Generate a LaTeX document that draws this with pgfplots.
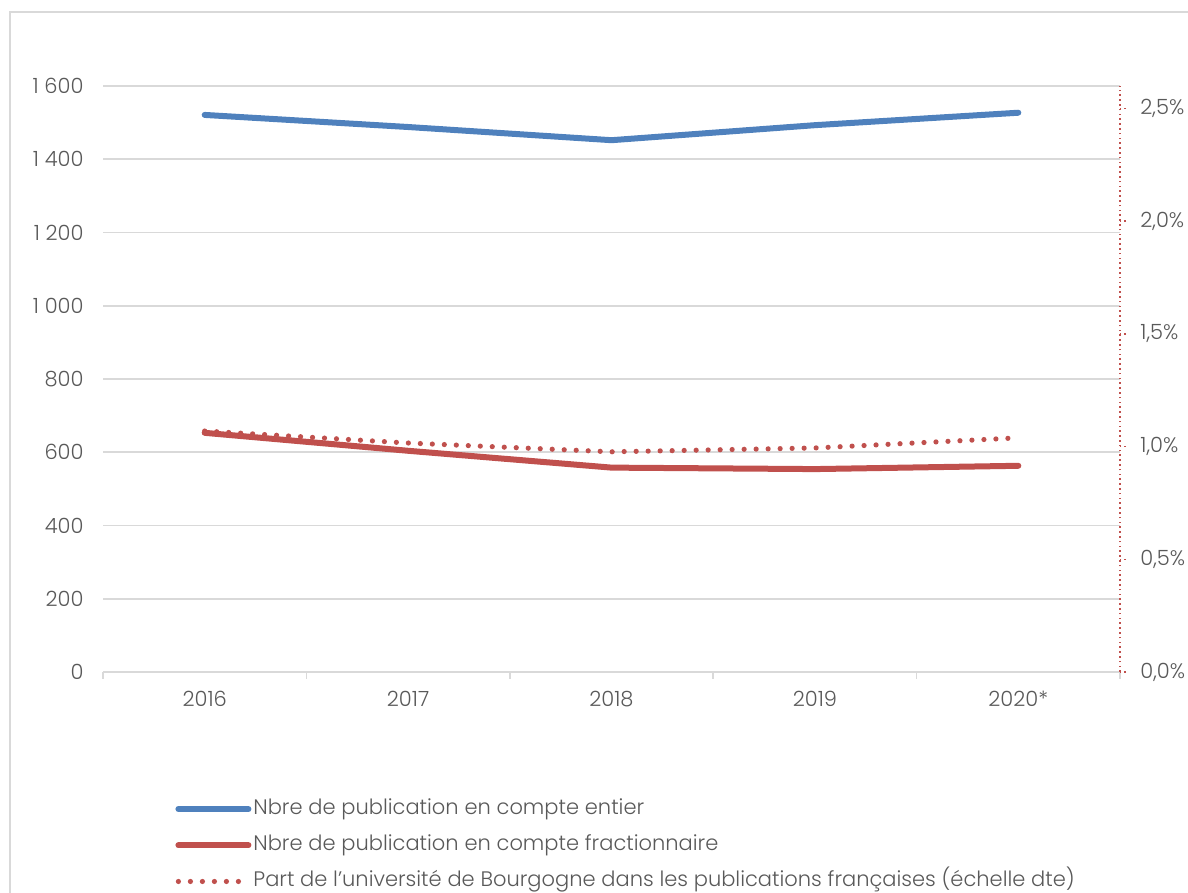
\documentclass[border=0pt]{standalone}
\usepackage{pgfplots}
\pgfplotsset{compat=1.18}
\usepackage{fontspec}
\IfFontExistsTF{Poppins Light}{\setmainfont{Poppins Light}}{\setmainfont{Poppins}}
\definecolor{cblue}{HTML}{4F81BD}
\definecolor{cred}{HTML}{C0504D}
\definecolor{cgrid}{HTML}{D9D9D9}
\definecolor{ctext}{HTML}{595959}
\pgfplotsset{
  myfont/.style={font=\fontsize{10.5}{12}\selectfont},
  dotstyle/.style={cred, line width=2.6pt, line cap=round, dash pattern=on 0pt off 6pt},
}
\begin{document}
\begin{tikzpicture}[x=1pt,y=1pt]
\useasboundingbox (0,0) rectangle (594,446.5);
\draw[cgrid, line width=1pt] (5,-5) -- (5,440.5) -- (600,440.5);
\begin{axis}[
  at={(51.5pt,110.5pt)}, anchor=south west, scale only axis,
  width=508.5pt, height=293pt,
  xmin=-0.5, xmax=4.5, ymin=0, ymax=1600,
  xtick={0,1,2,3,4}, xticklabels={2016,2017,2018,2019,2020*},
  ytick={0,200,...,1600},
  /pgf/number format/1000 sep={\ },
  /pgf/number format/assume math mode=true,
  tick align=outside,
  major tick length=3.5pt,
  x tick style={draw=none},
  y tick style={draw=none},
  extra x ticks={-0.5,0.5,1.5,2.5,3.5,4.5},
  extra x tick labels={},
  extra x tick style={x tick style={draw=cgrid, line width=0.8pt}},
  axis x line*=bottom, axis y line*=left,
  y axis line style={draw=none},
  x axis line style={cgrid, line width=0.8pt},
  ymajorgrids, grid style={cgrid, line width=0.8pt},
  tick label style={myfont, text=ctext},
  yticklabel style={inner sep=0pt, anchor=east, xshift=-6pt},
  xticklabel style={inner sep=0pt, anchor=north, yshift=-6pt},
  clip=false,
]
\addplot[cblue, line width=3pt, line cap=round, line join=round] coordinates {(0,1521) (1,1488) (2,1452) (3,1493) (4,1527)};
\addplot[cred, line width=3pt, line cap=round, line join=round] coordinates {(0,653) (1,604) (2,558) (3,554) (4,563)};
\end{axis}
\begin{axis}[
  at={(51.5pt,110.5pt)}, anchor=south west, scale only axis,
  width=508.5pt, height=293pt,
  xmin=-0.5, xmax=4.5, ymin=0, ymax=2.6,
  axis x line=none, axis y line*=right,
  ytick={0,0.5,1,1.5,2,2.5},
  y axis line style={cred, line width=0.8pt, dash pattern=on 0.8pt off 1.6pt},
  y tick style={cred, line width=0.8pt, dash pattern=on 0.8pt off 1.6pt},
  tick align=outside, major tick length=3pt,
  /pgf/number format/assume math mode=true,
  yticklabel={\pgfmathprintnumber[fixed,fixed zerofill,precision=1,use comma]{\tick}\%},
  tick label style={myfont, text=ctext},
  yticklabel style={inner sep=0pt, anchor=west, xshift=7pt},
  clip=false,
  legend style={draw=none, fill=none, at={(0.0708,-0.2085)}, anchor=north west,
    myfont, text=ctext, inner sep=0pt, row sep=3.6pt,
    nodes={inner xsep=1pt, inner ysep=2pt, text height=8pt, text depth=2.5pt},
    cells={anchor=west}},
  legend cell align=left,
  legend image code/.code={\draw[#1] (0pt,0pt) -- (35pt,0pt);},
]
\addlegendimage{cblue, line width=3pt, line cap=round}
\addlegendentry{Nbre de publication en compte entier}
\addlegendimage{cred, line width=3pt, line cap=round}
\addlegendentry{Nbre de publication en compte fractionnaire}
\addplot[dotstyle] coordinates {(0,1.069) (1,1.016) (2,0.977) (3,0.994) (4,1.039)};
\addlegendentry{Part de l'université de Bourgogne dans les publications françaises (échelle dte)}
\end{axis}
\end{tikzpicture}
\end{document}
